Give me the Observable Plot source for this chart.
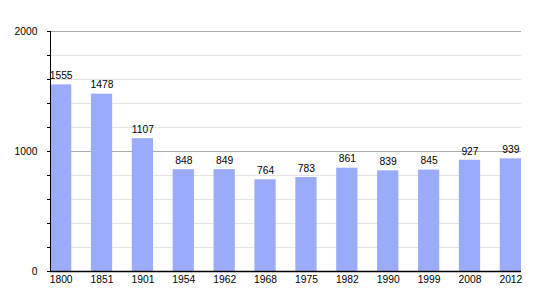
<!DOCTYPE html>
<html><head><meta charset="utf-8">
<script src="https://cdn.jsdelivr.net/npm/d3@7"></script>
<script src="https://cdn.jsdelivr.net/npm/@observablehq/plot@0.6"></script>
<style>body{margin:0;background:#fff;} svg{font-family:"Liberation Sans",Arial,sans-serif;}</style>
</head><body><div id="chart"></div>
<script>
const years = ["1800","1851","1901","1954","1962","1968","1975","1982","1990","1999","2008","2012"];
const population = [1555,1478,1107,848,849,764,783,861,839,845,927,939];
const majorTicks = [0,1000,2000];
const minorTicks = [200,400,600,800,1200,1400,1600,1800];
const allTicks = [0,200,400,600,800,1000,1200,1400,1600,1800,2000];

const data = years.map((y,i)=>({year:y, value:population[i]}));

const chart = Plot.plot({
  width: 550, height: 300,
  marginLeft: 50, marginRight: 29, marginTop: 31, marginBottom: 29,
  style: {fontFamily: "Liberation Sans, Arial, sans-serif", fontSize: "10.3px", background: "#fff", overflow: "visible"},
  x: {domain: years, paddingInner: 0.48, paddingOuter: 0, round: false, label: null, tickSize: 0, tickPadding: 4},
  y: {domain: [0,2000], label: null, ticks: allTicks, tickSize: 3, tickFormat: ()=>"", line: true},
  marks: [
    Plot.ruleY(minorTicks, {stroke: "#e3e3e3", strokeWidth: 1}),
    Plot.ruleY(majorTicks.filter(d=>d>0), {stroke: "#aaaaaa", strokeWidth: 1}),
    Plot.barY(data, {x: "year", y: "value", fill: "#9aabf9"}),
    Plot.text(data, {x: "year", y: "value", text: d=>String(d.value), dy: -9, fill: "#000", fontSize: 10.3}),
    Plot.text(majorTicks, {y: d=>d, frameAnchor: "left", dx: -13, textAnchor: "end", text: d=>String(d), fill: "#000", fontSize: 10.3}),
    Plot.frame({anchor: "left", stroke: "#000"}),
    Plot.ruleY([0], {stroke: "#000", strokeWidth: 1.5})
  ]
});
document.getElementById("chart").appendChild(chart);
</script></body></html>
